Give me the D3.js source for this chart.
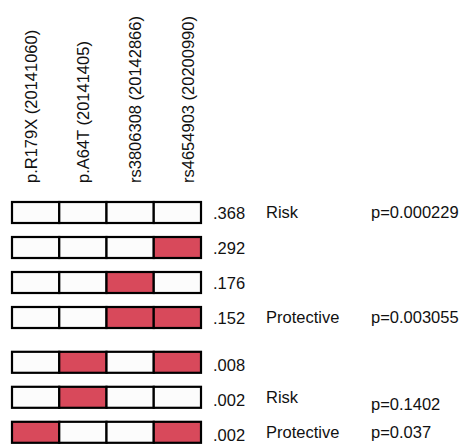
<!DOCTYPE html>
<html>
<head>
<meta charset="utf-8">
<script src="https://cdn.jsdelivr.net/npm/d3@7"></script>
<style>
  body { margin: 0; background: #fff; }
  text { font-family: "Liberation Sans", Arial, sans-serif; font-size: 16.5px; fill: #111; }
</style>
</head>
<body>
<svg width="464" height="445"></svg>
<script>
// markers (columns)
const snps = ['p.R179X (20141060)', 'p.A64T (20141405)', 'rs3806308 (20142866)', 'rs4654903 (20200990)'];
// haplotypes: 1 = minor allele (red)
const haplotypes = [
  [0, 0, 0, 0],
  [0, 0, 0, 1],
  [0, 0, 1, 0],
  [0, 0, 1, 1],
  [0, 1, 0, 1],
  [0, 1, 0, 0],
  [1, 0, 0, 1],
];
const freqs = [0.368, 0.292, 0.176, 0.152, 0.008, 0.002, 0.002];
const effects = ['Risk', '', '', 'Protective', '', 'Risk', 'Protective'];
const pvalues = [0.000229, null, null, 0.003055, null, 0.1402, 0.037];
// rows after this index are set a bit apart
const groupBreak = 4;

const RED = '#d8495b';
const svg = d3.select('svg');

// scales
const x = d3.scaleBand().domain(d3.range(snps.length)).range([12, 201]);
const xLabel = d3.scalePoint().domain(d3.range(snps.length)).range([36.5, 193.5]);
const rowPos = i => i + (i >= groupBreak ? 0.28 : 0);
const y = d3.scaleLinear().domain([0, 1]).range([202, 237]);
const ROW_H = 21;

// column labels
svg.append('g')
  .selectAll('text')
  .data(snps)
  .join('text')
  .attr('transform', (d, i) => `translate(${xLabel(i)},183) rotate(-90)`)
  .text(d => d);

// haplotype rows
const rows = svg.append('g')
  .selectAll('g')
  .data(haplotypes)
  .join('g')
  .attr('transform', (d, i) => `translate(0,${y(rowPos(i))})`);

rows.selectAll('rect')
  .data(d => d)
  .join('rect')
  .attr('x', (d, j) => x(j))
  .attr('y', 0)
  .attr('width', x.bandwidth())
  .attr('height', ROW_H)
  .attr('fill', d => (d ? RED : '#fcfcfc'))
  .attr('stroke', '#000')
  .attr('stroke-width', 2.2);

const fmtFreq = d => d3.format('.3f')(d).replace(/^0/, '');

rows.append('text')
  .attr('x', 213)
  .attr('y', ROW_H / 2)
  .attr('dy', (d, i) => (i >= 4 ? '0.55em' : '0.4em'))
  .text((d, i) => fmtFreq(freqs[i]));

rows.append('text')
  .attr('x', 266)
  .attr('y', ROW_H / 2)
  .attr('dy', '0.35em')
  .text((d, i) => effects[i]);

rows.append('text')
  .attr('x', 371)
  .attr('y', ROW_H / 2)
  .attr('dy', (d, i) => (i === 5 ? '0.75em' : '0.35em'))
  .text((d, i) => (pvalues[i] == null ? '' : 'p=' + pvalues[i]));
</script>
</body>
</html>
